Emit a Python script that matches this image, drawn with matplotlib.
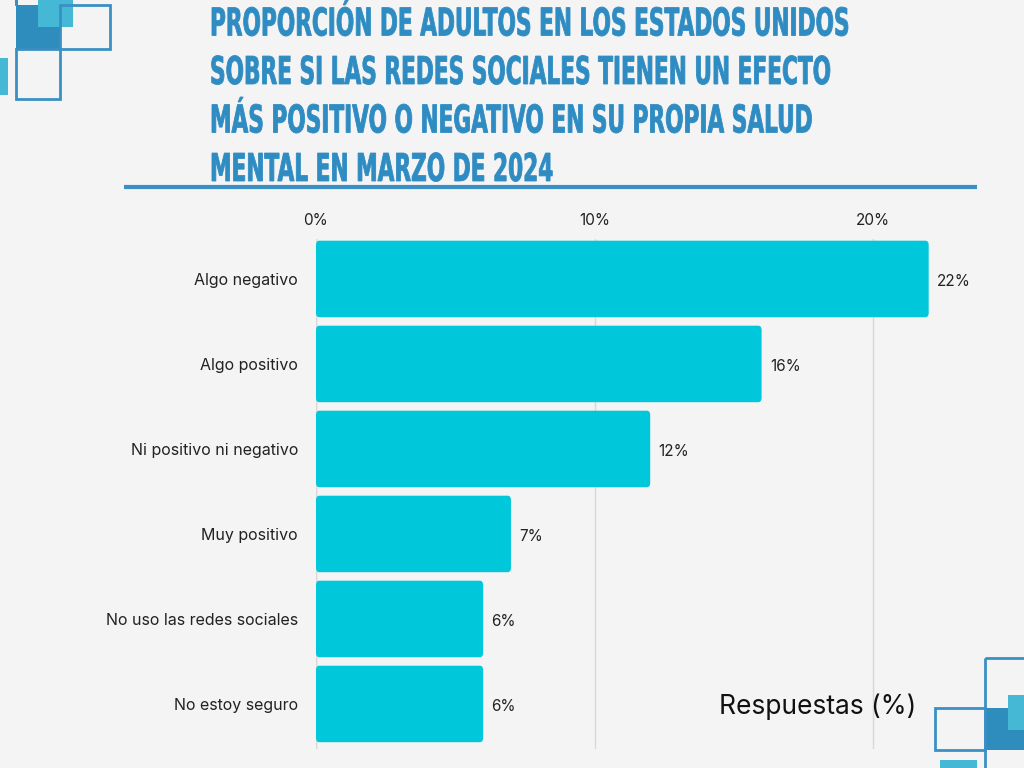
import matplotlib
matplotlib.use("Agg")
import matplotlib.pyplot as plt
from matplotlib.patches import Rectangle, PathPatch, FancyBboxPatch
from matplotlib.textpath import TextPath
from matplotlib.font_manager import FontProperties
from matplotlib.transforms import Affine2D

categories = ["Algo negativo", "Algo positivo", "Ni positivo ni negativo",
              "Muy positivo", "No uso las redes sociales", "No estoy seguro"]
values = [22, 16, 12, 7, 6, 6]
ticks = [0, 10, 20]
tick_labels = ["0%", "10%", "20%"]
title_lines = ["PROPORCIÓN DE ADULTOS EN LOS ESTADOS UNIDOS",
               "SOBRE SI LAS REDES SOCIALES TIENEN UN EFECTO",
               "MÁS POSITIVO O NEGATIVO EN SU PROPIA SALUD",
               "MENTAL EN MARZO DE 2024"]

W, H = 1024, 768
bg = "#f4f4f4"
fig = plt.figure(figsize=(10.24, 7.68), dpi=100, facecolor=bg)

deco = fig.add_axes([0, 0, 1, 1])
deco.set_xlim(0, W); deco.set_ylim(H, 0); deco.axis("off")
dark, light, line = "#2e8dbd", "#45b8d6", "#3a8fc4"
def rect(x0, y0, x1, y1, fill=None, ec=None, lw=2):
    deco.add_patch(Rectangle((x0, y0), x1 - x0, y1 - y0,
                             facecolor=fill if fill else "none",
                             edgecolor=ec if ec else "none", linewidth=lw))
rect(16, 5, 60, 50, fill=dark)
rect(38, 0, 73, 27, fill=light)
rect(60, 5, 110, 49, ec=line)
rect(16, 49, 60, 99, ec=line)
rect(16, -5, 16, 5, ec=line)
rect(0, 58, 8, 95, fill=light)
rect(985, 658, 1030, 770, ec=line)
rect(985, 708, 1030, 750, fill=dark)
rect(1008, 695, 1030, 730, fill=light)
rect(935, 708, 985, 750, ec=line)
rect(940, 760, 977, 770, fill=light)
deco.plot([124, 977], [187, 187], color=line, lw=3, solid_capstyle="butt")

fp = FontProperties(family="DejaVu Sans", weight="bold")
S = 38
paths = [TextPath((0, 0), t, size=S, prop=fp) for t in title_lines]
w0 = paths[0].get_extents().width
sx = 636 / w0
sy = 28 / (0.73 * S)
baselines = [35.5, 84, 132.5, 181]
for p, b in zip(paths, baselines):
    tr = Affine2D().scale(sx, -sy).translate(210, b)
    deco.add_patch(PathPatch(tr.transform_path(p), facecolor="#2f8cc2",
                             edgecolor="#2f8cc2", lw=0.6))

x0, x1 = 316, 980
y_top, y_bot = 239, 749
ax = fig.add_axes([x0 / W, 1 - y_bot / H, (x1 - x0) / W, (y_bot - y_top) / H])
ax.set_facecolor("none")
scale = (873 - 316) / 20
ax.set_xlim(0, (x1 - x0) / scale)
n = len(categories)
ax.set_ylim(n - 0.5 + 0.03, -0.5 + 0.03)
for i, v in enumerate(values):
    ax.add_patch(FancyBboxPatch((0, i - 0.45), v, 0.9,
                                boxstyle="round,pad=0,rounding_size=0.12",
                                mutation_aspect=0.35 / 0.12 * 0.9 / 6,
                                facecolor="#00c8da", edgecolor="none", zorder=3))
    ax.text(v + 0.3, i + 0.03, f"{v}%", va="center", ha="left", fontsize=11,
            family="Inter", color="#222222")
ax.set_xticks(ticks)
ax.set_xticklabels(tick_labels, family="Inter", fontsize=11, color="#222222")
ax.xaxis.tick_top()
ax.tick_params(axis="x", length=0, pad=8)
ax.set_yticks(range(n))
ax.set_yticklabels(categories, family="Inter", fontsize=11.5, color="#222222")
ax.tick_params(axis="y", length=0, pad=13)
ax.grid(axis="x", color="#d8d8d8", lw=1, zorder=0)
for s in ax.spines.values():
    s.set_visible(False)
ax.axvline(0, color="#d8d8d8", lw=1, zorder=0)

fig.text(818 / W, 1 - 707 / H, "Respuestas (%)", ha="center", va="center",
         fontsize=19, family="Inter", color="#111111")

fig.savefig("out.png", dpi=100, facecolor=bg)
